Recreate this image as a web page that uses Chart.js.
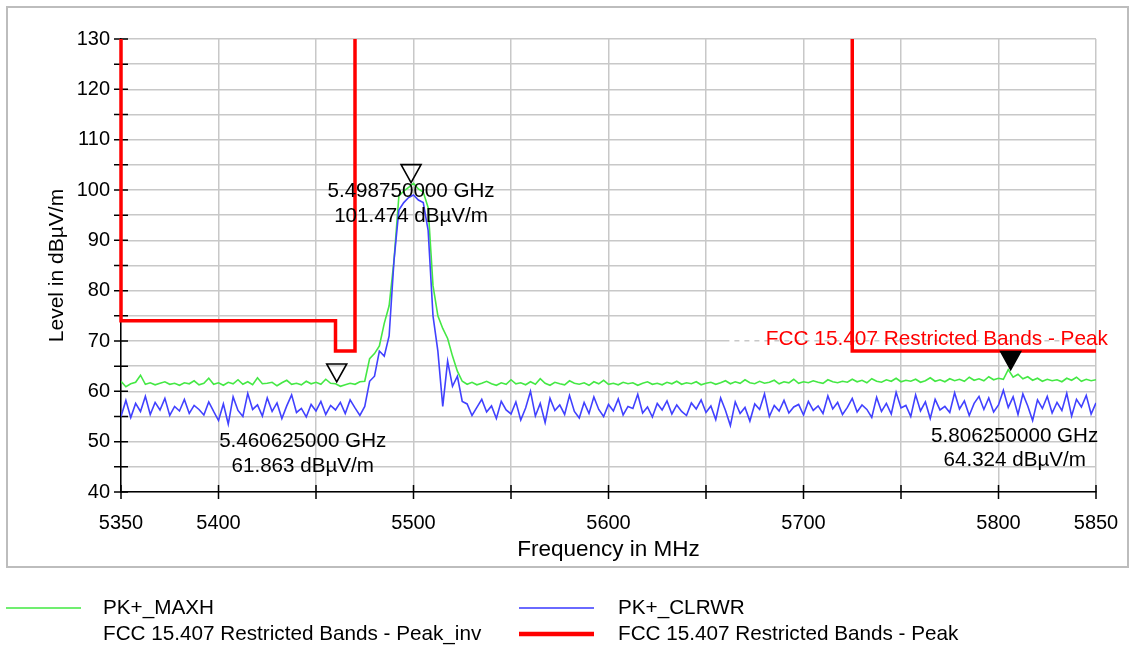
<!DOCTYPE html>
<html>
<head>
<meta charset="utf-8">
<script src="https://cdn.jsdelivr.net/npm/chart.js@4.4.0/dist/chart.umd.min.js"></script>
<style>
  html, body { margin: 0; padding: 0; background: #fff; }
  canvas { display: block; }
</style>
</head>
<body>
<canvas id="myChart" width="1135" height="648"></canvas>
<script>
const FONT = "'Liberation Sans', Arial, sans-serif";

// sweep 5350..5850 MHz, one point every 2.5 MHz
const sweepStart = 5350;
const sweepStep = 2.5;

const maxhLevel = [
  62.0, 60.9, 61.5, 61.8, 63.2, 61.4, 61.7, 61.3, 61.6, 61.9,
  61.4, 61.6, 61.2, 61.7, 61.5, 62.1, 61.3, 61.6, 62.6, 61.4,
  61.7, 61.2, 61.8, 61.5, 62.3, 61.4, 61.9, 61.3, 62.7, 61.5,
  61.6, 61.8, 61.1, 61.7, 62.2, 61.4, 61.6, 61.3, 62.0, 61.5,
  61.8, 61.4, 62.4, 61.6, 61.5, 61.0, 61.3, 61.6, 61.4, 61.9,
  62.0, 66.5, 67.5, 69.0, 73.5, 77.0, 86.0, 98.8, 99.8, 100.5,
  101.3, 100.2, 99.6, 96.5, 81.0, 75.0, 72.5, 70.5, 67.0, 64.0,
  62.0,
  61.4, 61.8, 61.3, 61.6, 62.0, 61.5, 61.2, 61.7, 61.4, 62.3,
  61.5, 61.7, 61.3, 61.9, 61.4, 62.5, 61.6, 61.2, 61.8, 61.5,
  61.3, 62.1, 61.6, 61.4, 61.7, 61.2, 61.9, 61.5, 62.2, 61.4,
  61.6, 61.3, 61.8, 61.5, 61.7, 61.2, 61.6, 61.9, 61.4, 61.6,
  61.3, 61.8, 61.5, 62.0, 61.4, 61.7, 61.5, 61.9, 61.3, 61.6,
  61.8, 61.4, 61.7, 62.1, 61.5, 61.9, 61.6, 62.3, 61.7, 61.5,
  62.0, 61.6, 61.8, 62.2, 61.5, 61.9, 61.7, 62.4, 61.6, 61.9,
  61.7, 62.1, 61.8, 61.6, 62.3, 61.9, 61.7, 62.0, 61.8, 62.4,
  61.9, 62.2, 61.7, 62.5, 62.0, 61.8, 62.3, 62.0, 62.6, 61.9,
  62.2, 62.0, 62.4, 61.8, 62.1, 62.7, 62.0, 62.3, 61.9, 62.5,
  62.1, 62.4, 62.0, 62.8, 62.2, 62.5, 62.1, 62.9, 62.3, 62.6,
  62.4, 64.3, 62.8, 63.4, 62.5, 62.9, 62.2, 62.6, 62.0, 62.4,
  62.1, 62.3, 61.9, 62.6, 62.2, 62.8, 62.0, 62.4, 62.1, 62.3
];

const clrwrLevel = [
  55.0, 58.2, 54.8, 57.6, 56.0, 59.0, 55.4, 57.8, 56.3, 58.6,
  55.2, 57.0, 56.1, 58.4, 55.6, 57.2, 56.4, 55.3, 57.9, 56.0,
  54.2, 57.5, 53.5, 58.9, 56.2, 55.0, 59.6, 56.4, 57.3, 55.1,
  58.7, 56.0, 57.7, 54.6, 57.1, 59.3, 55.8, 56.6, 54.9, 57.4,
  56.1, 58.0, 55.4, 57.2, 56.3, 57.8, 55.6, 58.3, 56.7, 55.2,
  57.0, 62.0, 63.0, 68.0, 67.0, 71.0, 86.0, 96.0, 97.5, 98.5,
  99.0, 98.0, 97.5, 92.0, 75.0, 68.0, 57.0, 66.0, 61.0, 63.0,
  58.0,
  57.5, 55.2, 56.8, 58.4, 55.9, 57.1, 54.6, 58.0, 56.3, 55.5,
  57.9, 54.3, 56.7, 60.0, 55.1, 57.6, 53.8, 58.6, 56.2, 57.3,
  55.4, 59.2, 56.0, 54.7, 57.8, 55.6, 58.9, 56.4, 55.0, 57.4,
  56.1, 58.5, 55.3, 57.0, 56.6, 59.4, 55.7, 56.9, 54.9, 57.6,
  56.3, 58.1, 55.5, 57.3, 56.0, 55.2, 57.7, 56.5, 58.3, 55.8,
  57.1, 54.4, 58.7, 56.2, 53.2, 57.9, 55.6, 56.8, 54.1, 57.5,
  56.4, 59.5, 55.0, 57.2, 56.1, 58.2, 55.7, 56.9, 57.4, 55.3,
  58.0, 56.2, 57.1, 55.6, 59.1, 56.5, 57.8, 55.4, 56.8, 58.6,
  55.9, 57.3, 56.4, 54.8, 58.8, 56.0, 57.6, 55.5, 59.8, 56.7,
  57.2, 55.0, 59.3, 56.1, 57.9, 54.6, 58.4, 56.3, 57.0, 55.8,
  59.7, 56.5, 58.1, 55.2, 57.6, 59.0, 56.4, 58.7, 55.9, 57.3,
  60.2, 56.8, 58.9, 55.4, 59.5, 57.1, 54.2, 58.3, 56.6, 59.0,
  55.7, 57.8, 56.2, 59.6, 55.1, 58.4, 56.9, 59.2, 55.5, 57.7
];

const sweepFreq = maxhLevel.map((v, i) => sweepStart + i * sweepStep);

// FCC 15.407 restricted band limit (null = gap)
const limitFreq = [5350, 5350, 5460, 5460, 5470, 5470, 5600, 5725, 5725, 5850];
const limitLevel = [130, 74, 74, 68, 68, 130, null, 130, 68, 68];

const invFreq = [5662, 5850];
const invLevel = [70, 70];

const markerFreq = [5498.75, 5460.625, 5806.25];
const markerLevel = [101.474, 61.863, 64.324];
const markerFilled = [false, false, true];

const xTickLabels = [5350, 5400, 5500, 5600, 5700, 5800, 5850];

const pts = (xs, ys) => xs.map((x, i) => ({ x: x, y: ys[i] }));

// label offsets from marker tip: dx, line1 dy, line2 dy
const markerLabelOffset = [[0, 9, 34], [-34, 59.5, 84.5], [4, 66.4, 90.4]];

const extras = {
  id: 'extras',
  beforeDraw(chart) {
    const c = chart.ctx;
    c.save();
    c.fillStyle = '#fff';
    c.fillRect(0, 0, chart.width, chart.height);
    c.strokeStyle = '#bdbdbd';
    c.lineWidth = 2;
    c.strokeRect(7, 7, 1121, 560);
    c.restore();
  },
  beforeDatasetsDraw(chart) {
    const { ctx: c, scales: { x, y } } = chart;
    c.save();
    c.strokeStyle = '#000';
    c.lineWidth = 1.5;
    c.beginPath();
    y.ticks.forEach((t) => {
      const py = y.getPixelForValue(t.value);
      c.moveTo(x.left - 7, py);
      c.lineTo(x.left + 7, py);
    });
    x.ticks.forEach((t) => {
      const px = x.getPixelForValue(t.value);
      c.moveTo(px, y.bottom - 7);
      c.lineTo(px, y.bottom + 7);
    });
    c.stroke();
    c.restore();
  },
  afterDatasetsDraw(chart) {
    const { ctx: c, scales: { x, y } } = chart;
    c.save();
    markerFreq.forEach((f, i) => {
      const px = x.getPixelForValue(f);
      const py = y.getPixelForValue(markerLevel[i]);
      c.beginPath();
      c.moveTo(px, py);
      c.lineTo(px - 10, py - 18);
      c.lineTo(px + 10, py - 18);
      c.closePath();
      c.lineWidth = 1.6;
      c.strokeStyle = '#000';
      if (markerFilled[i]) {
        c.fillStyle = '#000';
        c.fill();
      }
      c.stroke();
      const o = markerLabelOffset[i];
      c.fillStyle = '#000';
      c.font = '20.6px ' + FONT;
      c.textAlign = 'center';
      c.textBaseline = 'middle';
      c.fillText((f / 1000).toFixed(9) + ' GHz', px + o[0], py + o[1]);
      c.fillText(markerLevel[i].toFixed(3) + ' dBµV/m', px + o[0], py + o[2]);
    });
    // limit line name
    c.fillStyle = '#ff0000';
    c.font = '20.8px ' + FONT;
    c.textAlign = 'right';
    c.textBaseline = 'middle';
    c.fillText('FCC 15.407 Restricted Bands - Peak', x.right + 12, y.getPixelForValue(70) - 2);
    c.restore();
  },
  afterDraw(chart) {
    const c = chart.ctx;
    const ds = chart.data.datasets;
    const slots = [[6, 103, 608], [519, 618, 608], [6, 103, 634], [519, 618, 634]];
    c.save();
    ds.forEach((d, i) => {
      const s = slots[i];
      if (d.legendLine) {
        c.strokeStyle = d.legendColor || d.borderColor;
        c.lineWidth = d.legendWidth;
        c.beginPath();
        c.moveTo(s[0], s[2]);
        c.lineTo(s[0] + 75, s[2]);
        c.stroke();
      }
      c.fillStyle = '#000';
      c.font = '20.7px ' + FONT;
      c.textAlign = 'left';
      c.textBaseline = 'middle';
      c.fillText(d.label, s[1], s[2]);
    });
    c.restore();
  }
};

const ctx = document.getElementById('myChart').getContext('2d');
const myChart = new Chart(ctx, {
  type: 'line',
  data: {
    datasets: [
      {
        label: 'PK+_MAXH',
        data: pts(sweepFreq, maxhLevel),
        borderColor: '#45e845',
        legendColor: '#70ee70',
        borderWidth: 1.6,
        legendLine: true,
        legendWidth: 2,
        order: 3,
      },
      {
        label: 'PK+_CLRWR',
        data: pts(sweepFreq, clrwrLevel),
        borderColor: '#4141ff',
        legendColor: '#6a6aff',
        borderWidth: 1.6,
        legendLine: true,
        legendWidth: 2,
        order: 2,
      },
      {
        label: 'FCC 15.407 Restricted Bands - Peak_inv',
        data: pts(invFreq, invLevel),
        borderColor: '#ffffff',
        borderWidth: 2.5,
        borderDash: [5, 5],
        legendLine: false,
        order: 4,
      },
      {
        label: 'FCC 15.407 Restricted Bands - Peak',
        data: pts(limitFreq, limitLevel),
        borderColor: '#ff0000',
        borderWidth: 3.5,
        legendLine: true,
        legendWidth: 4.5,
        spanGaps: false,
        clip: 6,
        order: 1,
      },
    ],
  },
  options: {
    responsive: false,
    animation: false,
    layout: { padding: { left: 41, top: 39, right: 39, bottom: 81 } },
    elements: { point: { radius: 0 }, line: { tension: 0 } },
    plugins: { legend: { display: false }, tooltip: { enabled: false } },
    scales: {
      x: {
        type: 'linear',
        min: 5350,
        max: 5850,
        afterFit: (s) => {
          s.height = 75;
          s.paddingLeft = 0;
          s.paddingRight = 0;
        },
        ticks: {
          stepSize: 50,
          autoSkip: false,
          maxRotation: 0,
          padding: 19,
          color: '#000',
          font: { family: FONT, size: 20 },
          callback: (v) => (xTickLabels.includes(v) ? v : ''),
        },
        grid: { color: '#c8c8c8', lineWidth: 1.5, drawTicks: false },
        border: { display: true, color: '#000', width: 1.5 },
        title: {
          display: true,
          text: 'Frequency in MHz',
          color: '#000',
          font: { family: FONT, size: 22.5 },
          padding: { top: 0, bottom: 4 },
        },
      },
      y: {
        min: 40,
        max: 130,
        afterFit: (s) => {
          s.width = 80;
          s.paddingTop = 0;
          s.paddingBottom = 0;
        },
        ticks: {
          stepSize: 5,
          autoSkip: false,
          padding: 11,
          color: '#000',
          font: { family: FONT, size: 20 },
          callback: (v) => (v % 10 === 0 ? v : ''),
        },
        grid: { color: '#c8c8c8', lineWidth: 1.5, drawTicks: false },
        border: { display: true, color: '#000', width: 1.5 },
        title: {
          display: true,
          text: 'Level in dBµV/m',
          color: '#000',
          font: { family: FONT, size: 21 },
          padding: { top: 4, bottom: 0 },
        },
      },
    },
  },
  plugins: [extras],
});
</script>
</body>
</html>
